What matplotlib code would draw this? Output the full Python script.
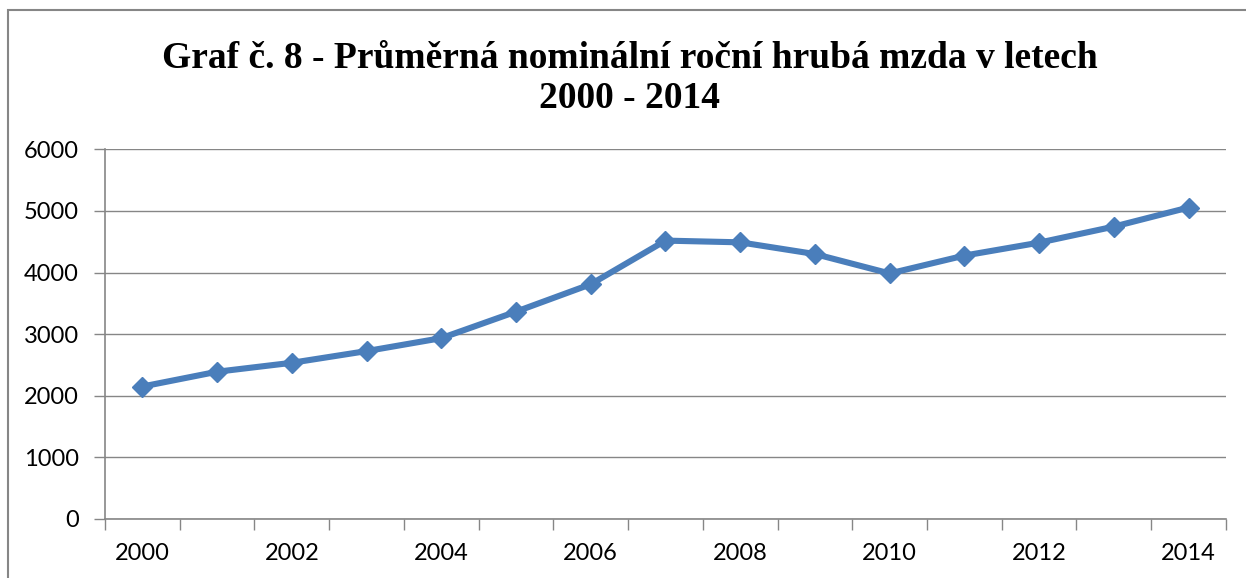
import matplotlib.pyplot as plt
import matplotlib.patches as patches
import numpy as np

# odhad hodnot z grafu
years = [2000, 2001, 2002, 2003, 2004, 2005, 2006, 2007,
         2008, 2009, 2010, 2011, 2012, 2013, 2014]
wage = [2150, 2390, 2535, 2725, 2935, 3365, 3810, 4518,
        4490, 4300, 3985, 4275, 4485, 4745, 5055]
yticks = [0, 1000, 2000, 3000, 4000, 5000, 6000]
title = 'Graf č. 8 - Průměrná nominální roční hrubá mzda v letech\n2000 - 2014'

GRAY = '#868686'
BLUE = '#4A7EBB'

fig = plt.figure(figsize=(12.46, 5.78), dpi=100)
ax = fig.add_axes([0.0843, 0.1021, 0.8996, 0.6396])

x = np.arange(len(years))
ax.plot(x, wage, color=BLUE, lw=4.4, marker='D', ms=10, mec=BLUE, mfc=BLUE,
        solid_joinstyle='round', clip_on=False, zorder=3)

ax.set_xlim(-0.5, len(years) - 0.5)
ax.set_ylim(yticks[0], yticks[-1])

# tick marks between categories, labels on every other year
ax.set_xticks(np.arange(len(years) + 1) - 0.5)
ax.set_xticklabels([])
ax.set_xticks(x[::2], minor=True)
ax.set_xticklabels([str(y) for y in years[::2]], minor=True)
ax.tick_params(axis='x', which='major', length=8, width=1, color=GRAY, direction='out')
ax.tick_params(axis='x', which='minor', length=0, pad=17)

ax.set_yticks(yticks)
ax.set_yticklabels([str(v) for v in yticks])
ax.tick_params(axis='y', length=8, width=1, color=GRAY, direction='out', pad=11)

for lab in ax.get_xticklabels(minor=True) + ax.get_yticklabels():
    lab.set_fontfamily('Lato')
    lab.set_fontsize(17)
    lab.set_color('black')

ax.grid(axis='y', color=GRAY, lw=1)
ax.set_axisbelow(True)
for side in ['top', 'right']:
    ax.spines[side].set_visible(False)
for side in ['left', 'bottom']:
    ax.spines[side].set_color(GRAY)
    ax.spines[side].set_linewidth(1.2)

fig.text(0.5055, 1 - 108 / 578, title, ha='center', va='baseline',
         fontfamily='Liberation Serif', fontweight='bold', fontsize=27,
         linespacing=1.2)

# outer chart frame
fig.patches.append(patches.Rectangle((8 / 1246, -0.1), 1.2, 1 - 10 / 578 + 0.1,
                                     transform=fig.transFigure, fill=False,
                                     edgecolor=GRAY, lw=1.5))

fig.savefig('out.png', dpi=100)
